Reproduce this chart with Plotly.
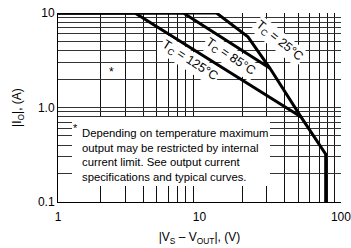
import plotly.graph_objects as go

# ---- data ----
x_25 = [1, 13.2, 22, 31.5, 52, 78, 78]
y_25 = [10, 10, 5.6, 2.6, 0.8, 0.32, 0.1]
x_85 = [1, 7.7, 31.5]
y_85 = [10, 10, 2.6]
x_125 = [1, 3.5, 52]
y_125 = [10, 10, 0.8]

x_ticks = [1, 10, 100]
x_ticktext = ["1", "10", "100"]
y_ticks = [0.1, 1, 10]
y_ticktext = ["0.1", "1.0", "10"]
x_grid = [2, 3, 4, 5, 6, 7, 8, 9, 20, 30, 40, 50, 60, 70, 80, 90, 100]
y_grid = [0.2, 0.3, 0.4, 0.5, 0.6, 0.7, 0.8, 0.9, 1, 2, 3, 4, 5, 6, 7, 8, 9]

labels = ["T<sub>C</sub> = 25°C", "T<sub>C</sub> = 85°C", "T<sub>C</sub> = 125°C"]
label_pos_log = [(1.56, 0.70), (1.215, 0.53), (0.93, 0.49)]
label_angle = [39, 34, 33]

note_lines = ["Depending on temperature maximum",
              "output may be restricted by internal",
              "current limit. See output current",
              "specifications and typical curves."]

FONT = "Liberation Sans, Arial, sans-serif"

fig = go.Figure()
for xs, ys in [(x_25, y_25), (x_85, y_85), (x_125, y_125)]:
    fig.add_trace(go.Scatter(x=xs, y=ys, mode="lines",
                             line=dict(color="black", width=3),
                             showlegend=False, hoverinfo="skip"))

# white box for note
fig.add_shape(type="rect", xref="x domain", yref="y domain",
              x0=0.0495, x1=0.749, y0=0.085, y1=0.45,
              fillcolor="white", line=dict(width=0), layer="above")

fig.add_annotation(xref="x domain", yref="y domain", x=0.078, y=0.25,
                   xanchor="left", yanchor="middle", align="left",
                   text="<br>".join(note_lines), showarrow=False,
                   font=dict(family=FONT, size=11.3, color="black"))
fig.add_annotation(xref="x domain", yref="y domain", x=0.047, y=0.39,
                   xanchor="left", yanchor="middle",
                   text="*", showarrow=False,
                   font=dict(family=FONT, size=11, color="black"))
fig.add_annotation(x=0.3746, y=0.376, text="*", showarrow=False,
                   font=dict(family=FONT, size=12, color="black"))

for t, (lx, ly), ang in zip(labels, label_pos_log, label_angle):
    fig.add_annotation(x=lx, y=ly, text=t, textangle=ang, showarrow=False,
                       bgcolor="white", borderpad=1,
                       font=dict(family=FONT, size=12.5, color="black"))

fig.update_xaxes(type="log", range=[0, 2.0003], tickmode="array",
                 tickvals=x_ticks, ticktext=x_ticktext, showgrid=False,
                 showline=True, linecolor="black", linewidth=1, ticks="",
                 zeroline=False, automargin=False, ticklabelstandoff=4,
                 ticklabeloverflow="allow",
                 minor=dict(tickmode="array", tickvals=x_grid, showgrid=True,
                            gridcolor="#111", gridwidth=1, ticks=""),
                 tickfont=dict(family=FONT, size=12, color="black"),
                 title=dict(text="|V<sub>S</sub> – V<sub>OUT</sub>|, (V)",
                            font=dict(family=FONT, size=12, color="black"),
                            standoff=9))
fig.update_yaxes(type="log", range=[-1, 1], tickmode="array",
                 tickvals=y_ticks, ticktext=y_ticktext, showgrid=False,
                 showline=True, linecolor="black", linewidth=1, ticks="",
                 zeroline=False, automargin=False,
                 minor=dict(tickmode="array", tickvals=y_grid, showgrid=True,
                            gridcolor="#333", gridwidth=1, ticks=""),
                 tickfont=dict(family=FONT, size=12, color="black"),
                 title=dict(text="|I<sub>O</sub>|, (A)",
                            font=dict(family=FONT, size=12, color="black"),
                            standoff=13))

fig.update_layout(width=351, height=248,
                  margin=dict(l=58, r=10, t=13, b=46),
                  paper_bgcolor="white", plot_bgcolor="white",
                  showlegend=False)

fig.write_html("out.html", config={"displayModeBar": False},
               post_script="document.body.style.margin='0px';")
